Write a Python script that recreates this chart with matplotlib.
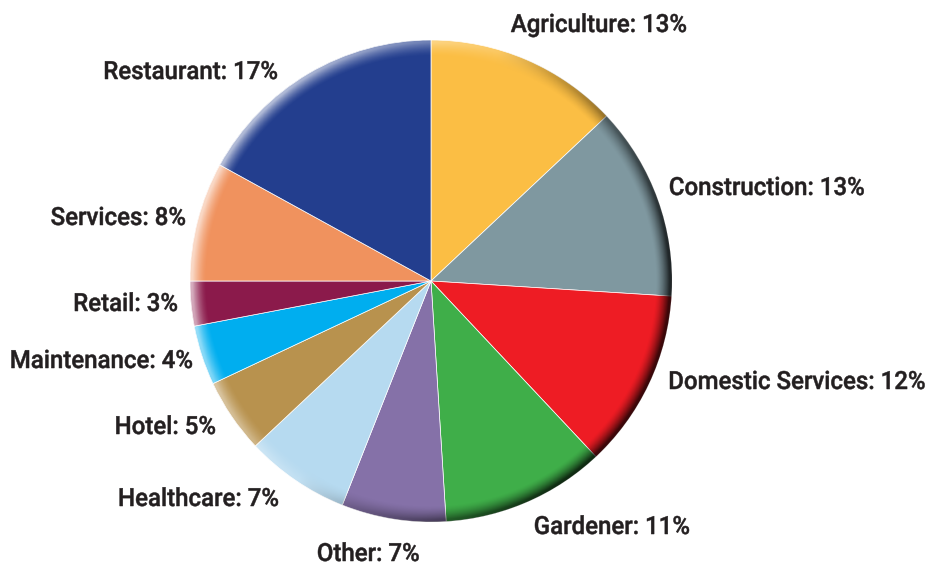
import numpy as np
import matplotlib
matplotlib.use("Agg")
from matplotlib import pyplot as plt
from matplotlib.patches import Circle, PathPatch
from matplotlib.textpath import TextPath
from matplotlib.font_manager import FontProperties
from matplotlib.transforms import Affine2D

# data
categories = ["Agriculture", "Construction", "Domestic Services", "Gardener", "Other",
              "Healthcare", "Hotel", "Maintenance", "Retail", "Services", "Restaurant"]
shares = [13, 13, 12, 11, 7, 7, 5, 4, 3, 8, 17]

colors = ["#FBBE44", "#7F98A0", "#EE1C24", "#3FAE49", "#8571A8",
          "#B6DAF0", "#B8924E", "#00AEEF", "#8B1A4B", "#F0925E", "#233E8E"]

# label placement in pixel space (x, baseline y from top, alignment)
label_pos = [(511, 32, "left"), (670, 195, "left"), (670, 389, "left"),
             (535, 534, "left"), (318, 561, "left"), (278, 506, "right"),
             (215, 434, "right"), (192, 368, "right"), (177, 311, "right"),
             (185, 225, "right"), (277, 79, "right")]

W, H = 930, 565
cx, cy, R = 431, H - 281, 241

fig = plt.figure(figsize=(W / 100, H / 100), dpi=100, facecolor='white')
ax = fig.add_axes([0, 0, 1, 1])

wedges, _ = ax.pie(shares, colors=colors, startangle=90, counterclock=False,
                   center=(cx, cy), radius=R, frame=True,
                   wedgeprops=dict(edgecolor='white', linewidth=0.5))
ax.set_xlim(0, W)
ax.set_ylim(0, H)
ax.set_aspect('equal')
ax.axis('off')

# rim shading to fake the bevel
n = 600
xs = np.linspace(cx - R, cx + R, n)
ys = np.linspace(cy - R, cy + R, n)
X, Y = np.meshgrid(xs, ys)
rr = np.hypot(X - cx, Y - cy)
phi = np.arctan2(Y - cy, X - cx)
rim = np.clip((rr - (R - 16)) / 14, 0, 1) ** 1.5
d = np.cos(phi - np.deg2rad(155))
img = np.zeros((n, n, 4))
dark = rim * np.clip(-d + 0.15, 0, 1) * 0.75
light = rim * np.clip(d + 0.1, 0, 1) * 0.65
img[..., :3] = (light / np.maximum(light + dark, 1e-6))[..., None]
img[..., 3] = np.clip(light + dark, 0, 1)
im = ax.imshow(img, extent=(cx - R, cx + R, cy - R, cy + R), origin='lower',
               interpolation='bilinear', zorder=3)
im.set_clip_path(Circle((cx, cy), R, transform=ax.transData))

# condensed labels: text drawn as paths squeezed horizontally
fp = FontProperties(family=['Roboto', 'DejaVu Sans'], weight='medium')
fsize = 25
ref = TextPath((0, 0), "Agriculture: 13%", size=fsize, prop=fp)
ref_w = ref.get_extents().width
sx = 175 / ref_w

for name, val, (lx, ly, ha) in zip(categories, shares, label_pos):
    tp = TextPath((0, 0), f"{name}: {val}%", size=fsize, prop=fp)
    ext = tp.get_extents()
    w = ext.width * sx
    x0 = lx - ext.x0 * sx if ha == "left" else lx - w - ext.x0 * sx
    tr = Affine2D().scale(sx, 1).translate(x0, H - ly)
    ax.add_patch(PathPatch(tr.transform_path(tp), facecolor='#231F20',
                           edgecolor='#231F20', linewidth=0.35, zorder=5))

fig.savefig("out.png", dpi=100, facecolor='white')
